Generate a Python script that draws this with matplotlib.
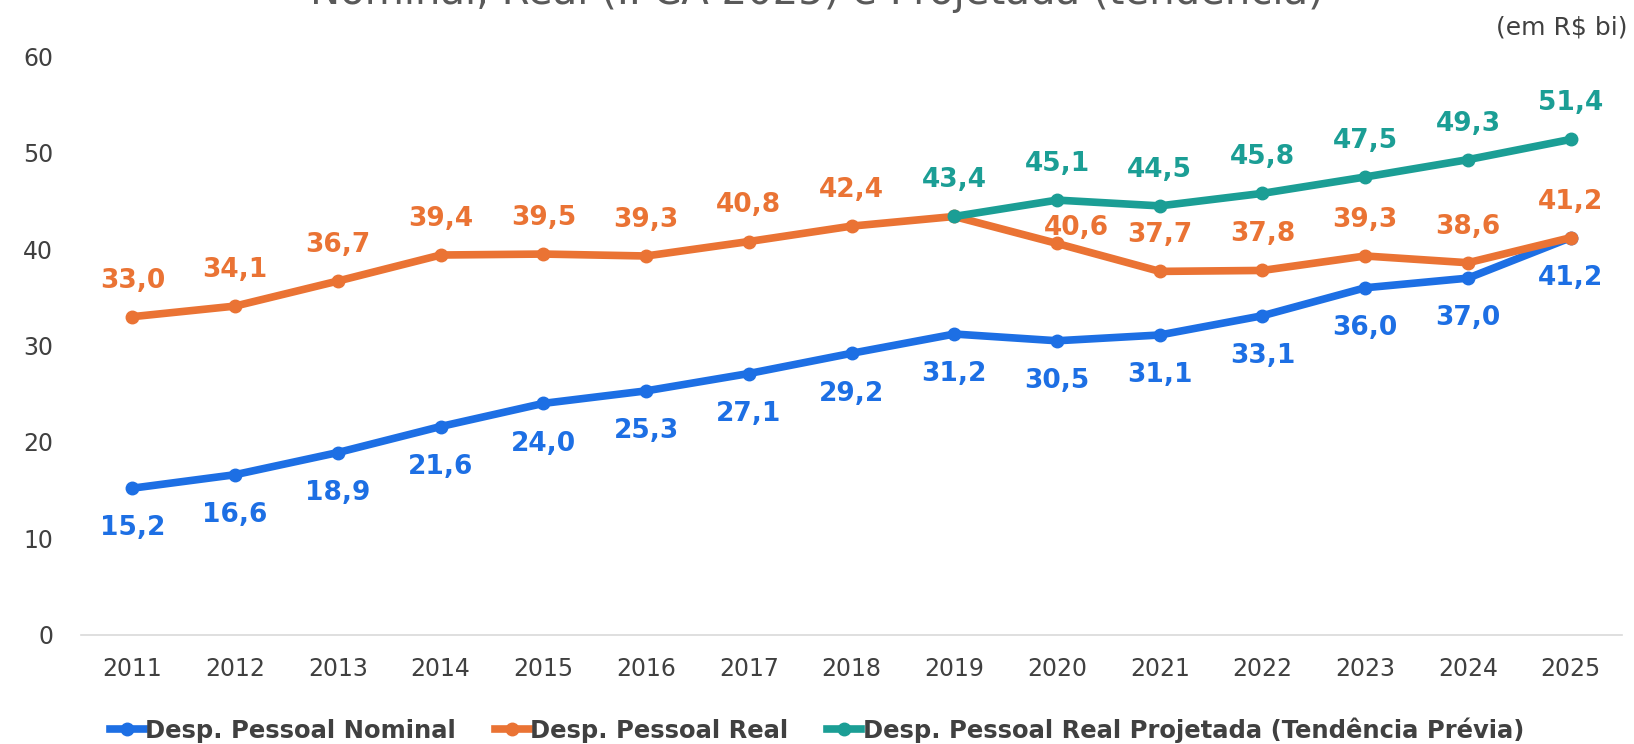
import matplotlib
matplotlib.use("Agg")
import matplotlib.pyplot as plt
from matplotlib.lines import Line2D

plt.rcParams['font.family'] = ['DejaVu Sans']

years = ["2011", "2012", "2013", "2014", "2015", "2016", "2017", "2018",
         "2019", "2020", "2021", "2022", "2023", "2024", "2025"]
nominal = [15.2, 16.6, 18.9, 21.6, 24.0, 25.3, 27.1, 29.2, 31.2, 30.5, 31.1, 33.1, 36.0, 37.0, 41.2]
real = [33.0, 34.1, 36.7, 39.4, 39.5, 39.3, 40.8, 42.4, 43.4, 40.6, 37.7, 37.8, 39.3, 38.6, 41.2]
proj_years = ["2019", "2020", "2021", "2022", "2023", "2024", "2025"]
projetada = [43.4, 45.1, 44.5, 45.8, 47.5, 49.3, 51.4]

c_nom = "#1D6FE4"
c_real = "#EA7334"
c_proj = "#1B9E95"

fig = plt.figure(figsize=(16.34, 7.44), dpi=100)
ax = fig.add_axes([0.0496, 0.147, 0.9431, 0.777])

x = list(range(len(years)))
xp = [years.index(y) for y in proj_years]

lw = 5.5
ms = 9
ax.plot(x, nominal, color=c_nom, lw=lw, marker='o', ms=ms, zorder=3)
ax.plot(x, real, color=c_real, lw=lw, marker='o', ms=ms, zorder=3)
ax.plot(xp, projetada, color=c_proj, lw=lw, marker='o', ms=ms, zorder=4)

fmt = lambda v: f"{v:.1f}".replace(".", ",")
lab_kw = dict(textcoords="offset points", ha="center", va="center",
              fontsize=19, fontweight="bold", zorder=5)
for i, v in zip(x, nominal):
    ax.annotate(fmt(v), (i, v), xytext=(0, -29), color=c_nom, **lab_kw)
for i, v in zip(x, real):
    if years[i] == "2019":
        continue
    off = (14, 11) if years[i] == "2020" else (0, 26)
    ax.annotate(fmt(v), (i, v), xytext=off, color=c_real, **lab_kw)
for i, v in zip(xp, projetada):
    ax.annotate(fmt(v), (i, v), xytext=(0, 26), color=c_proj, **lab_kw)

ax.set_xlim(-0.5, len(years) - 0.5)
ax.set_ylim(0, 60)
ax.set_xticks(x)
ax.set_xticklabels(years)
ax.set_yticks(range(0, 61, 10))
ax.tick_params(axis='both', length=0, labelsize=17, colors="#404040")
ax.tick_params(axis='x', pad=16)
ax.tick_params(axis='y', pad=20)
for s in ["top", "right", "left"]:
    ax.spines[s].set_visible(False)
ax.spines["bottom"].set_color("#D9D9D9")
ax.spines["bottom"].set_linewidth(1.2)

fig.text(0.5, 1 - 4 / 744, "Nominal, Real (IPCA 2025) e Projetada (tendência)",
         ha="center", va="baseline", fontsize=29, color="#595959")
fig.text(0.996, 1 - 28 / 744, "(em R$ bi)", ha="right", va="center",
         fontsize=18, color="#404040")

handles = [Line2D([], [], color=c, lw=lw, marker='o', ms=ms)
           for c in (c_nom, c_real, c_proj)]
labels = ["Desp. Pessoal Nominal", "Desp. Pessoal Real",
          "Desp. Pessoal Real Projetada (Tendência Prévia)"]
fig.legend(handles, labels, loc="center", bbox_to_anchor=(0.5, 1 - 730 / 744),
           ncol=3, frameon=False, handlelength=1.4, handletextpad=0.05,
           columnspacing=1.6, prop={"weight": "bold", "size": 17.5},
           labelcolor="#404040")

fig.savefig("out.png", dpi=100)
